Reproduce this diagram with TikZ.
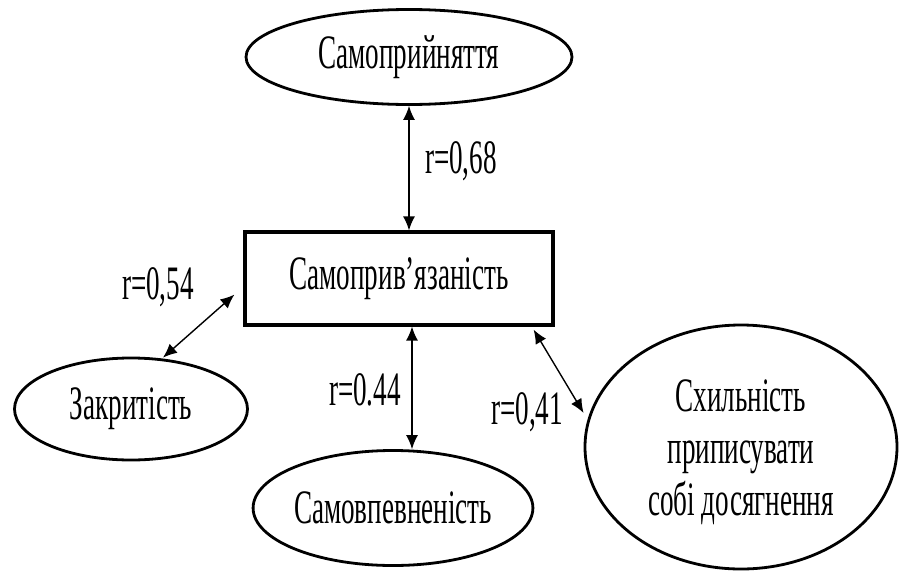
\documentclass[tikz,border=0pt]{standalone}
\usepackage{fontspec}
\setmainfont{Liberation Serif}[FakeStretch=0.565]
\usetikzlibrary{shapes.geometric,arrows.meta,calc}
\begin{document}
\begin{tikzpicture}[x=1pt,y=-1pt,
  txt/.style={font=\fontsize{48}{52}\selectfont},
  ell/.style={draw, ellipse, line width=2.8pt, inner sep=0pt, txt},
  box/.style={draw, rectangle, line width=3.2pt, inner sep=0pt, txt},
  lbl/.style={inner sep=0pt, txt},
  arr/.style={line width=1.4pt, {Latex[length=14pt,width=12pt]}-{Latex[length=14pt,width=12pt]}}]
\useasboundingbox (0,0) rectangle (899,570);
\fill[white] (0,0) rectangle (899,570);

\node[ell, minimum width=326pt, minimum height=95pt] (top) at (409,57) {Самоприйняття};
\node[box, minimum width=308pt, minimum height=93pt] (rect) at (399,278.5) {Самоприв’язаність};
\node[ell, minimum width=233pt, minimum height=102pt] (left) at (131,409) {Закритість};
\node[ell, minimum width=276pt, minimum height=115pt] (bottom) at (393,508) {Самовпевненість};
\node[ell, minimum width=312pt, minimum height=244pt] (right) at (741,447) {};
\node[txt, align=center, inner sep=0pt] (rtext) at ($(right.center)+(0,5)$) {Схильність\\приписувати\\собі досягнення};

\draw[arr] (top.south) -- (top.south |- rect.north);
\coordinate (bs) at ($(rect.south)+(13,0)$);
\draw[arr] (bs) -- (bs |- bottom.north);
\coordinate (ls) at ($(rect.south west)+(-9,-32)$);
\coordinate (le) at ($(left.north)+(32,1)$);
\draw[arr] (ls) -- (le);
\coordinate (rs) at ($(rect.south east)+(-21,3)$);
\coordinate (re) at ($(right.west)+(0,-34)$);
\draw[arr] (rs) -- (re);

\node[lbl] (l68) at (461,161) {r=0,68};
\node[lbl] (l54) at (158,287) {r=0,54};
\node[lbl] (l44) at (365,390) {r=0.44};
\node[lbl] (l41) at (527,412) {r=0,41};
\end{tikzpicture}
\end{document}
